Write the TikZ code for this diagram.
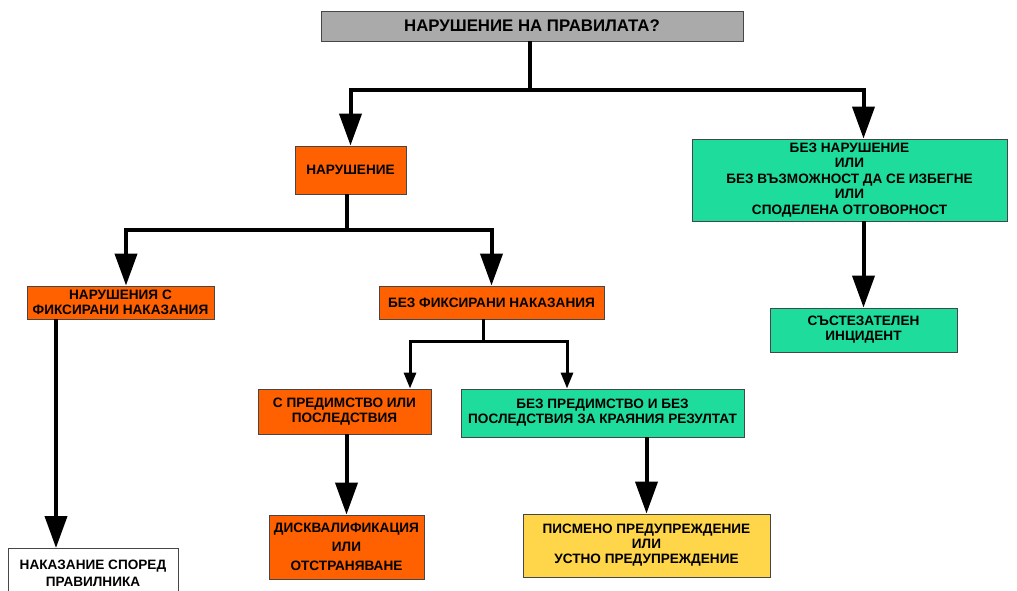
\documentclass[tikz,border=0pt]{standalone}
\usepackage{fontspec}
\setmainfont{Liberation Sans}
\usetikzlibrary{arrows.meta,calc}
\definecolor{boxgray}{RGB}{170,170,170}
\definecolor{boxorange}{RGB}{255,96,0}
\definecolor{boxgreen}{RGB}{30,220,155}
\definecolor{boxyellow}{RGB}{255,214,74}
\definecolor{edgegray}{RGB}{70,70,70}
\tikzset{
  box/.style={draw=edgegray, line width=0.9pt, align=center, inner sep=0pt,
    font=\bfseries\fontsize{13.6}{15}\selectfont, text=black},
  conn/.style={line width=4pt, line join=miter, draw=black},
  bigarr/.style={conn, -{Triangle[length=32pt,width=22pt]}},
  smallconn/.style={line width=3pt, line join=miter, draw=black},
  smallarr/.style={smallconn, -{Triangle[length=16pt,width=12pt]}},
}
\begin{document}
\begin{tikzpicture}[x=1pt,y=-1pt]
\useasboundingbox (0,0) rectangle (1017,591);
% nodes
\node[box, fill=boxgray, minimum width=422pt, minimum height=30pt,
      font=\bfseries\fontsize{16.8}{18}\selectfont] (top) at (532,26) {НАРУШЕНИЕ НА ПРАВИЛАТА?};
\node[box, fill=boxorange, minimum width=111pt, minimum height=48pt] (nar) at (350.5,170) {НАРУШЕНИЕ};
\node[box, fill=boxgreen, minimum width=315pt, minimum height=82pt, font=\bfseries\fontsize{13.6}{15.4}\selectfont] (green1) at (849.5,180)
  {БЕЗ НАРУШЕНИЕ\\ИЛИ\\БЕЗ ВЪЗМОЖНОСТ ДА СЕ ИЗБЕГНЕ\\ИЛИ\\СПОДЕЛЕНА ОТГОВОРНОСТ};
\node[box, fill=boxgreen, minimum width=187pt, minimum height=44pt] (inc) at (863.5,330)
  {СЪСТЕЗАТЕЛЕН\\ИНЦИДЕНТ};
\node[box, fill=boxorange, minimum width=187pt, minimum height=33pt] (fix) at (120.5,302.5)
  {НАРУШЕНИЯ С\\ФИКСИРАНИ НАКАЗАНИЯ};
\node[box, fill=boxorange, minimum width=225pt, minimum height=33pt] (nofix) at (491.5,302.5)
  {БЕЗ ФИКСИРАНИ НАКАЗАНИЯ};
\node[box, fill=boxorange, minimum width=173pt, minimum height=45pt] (adv) at (344.5,411.5)
  {С ПРЕДИМСТВО ИЛИ\\ПОСЛЕДСТВИЯ};
\node[box, fill=boxgreen, minimum width=283pt, minimum height=48pt] (noadv) at (602.5,413)
  {БЕЗ ПРЕДИМСТВО И БЕЗ\\ПОСЛЕДСТВИЯ ЗА КРАЯНИЯ РЕЗУЛТАТ};
\node[box, fill=white, minimum width=170pt, minimum height=50pt, anchor=north,
      font=\bfseries\fontsize{13.6}{17}\selectfont] (rule) at (93,548)
  {НАКАЗАНИЕ СПОРЕД\\ПРАВИЛНИКА};
\node[box, fill=boxorange, minimum width=155pt, minimum height=64pt, font=\bfseries\fontsize{13.6}{19}\selectfont] (disq) at (346.5,547)
  {ДИСКВАЛИФИКАЦИЯ\\ИЛИ\\ОТСТРАНЯВАНЕ};
\node[box, fill=boxyellow, minimum width=247pt, minimum height=63pt] (warn) at (646.5,545.5)
  {ПИСМЕНО ПРЕДУПРЕЖДЕНИЕ\\ИЛИ\\УСТНО ПРЕДУПРЕЖДЕНИЕ};
% junctions
\coordinate (j1) at (530,90);
\coordinate (j2) at (347,230);
\coordinate (j3) at (483,341);
% connectors
\draw[conn] (top.south -| j1) -- (j1);
\draw[bigarr] (j1) -| (nar.north);
\draw[bigarr] (j1) -| (green1.north -| inc.north);
\draw[bigarr] (green1.south -| inc.north) -- (inc.north);
\draw[conn] (nar.south -| j2) -- (j2);
\draw[bigarr] (j2) -| ([xshift=5.5]fix.north);
\draw[bigarr] (j2) -| (nofix.north);
\draw[bigarr] ([xshift=-64.5]fix.south) -- ([xshift=-64.5]fix.south |- rule.north);
\draw[smallconn] (nofix.south -| j3) -- (j3);
\draw[smallarr] (j3) -| ([xshift=65.5]adv.north);
\draw[smallarr] (j3) -| ([xshift=-35.5]noadv.north);
\draw[bigarr] (adv.south -| disq.north) -- (disq.north);
\draw[bigarr] (noadv.south -| warn.north) -- (warn.north);
\end{tikzpicture}
\end{document}
